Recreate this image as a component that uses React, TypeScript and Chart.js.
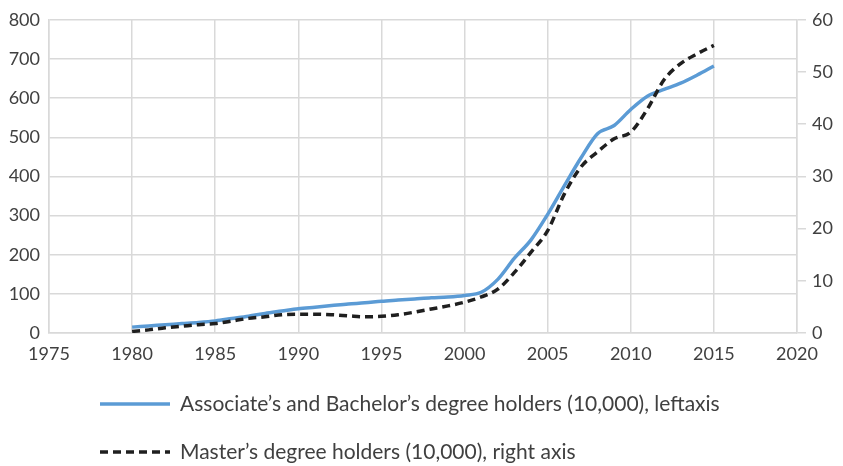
import React, { useEffect, useRef } from "react";
import { Chart, registerables } from "chart.js";

Chart.register(...registerables);

const years = [
  1980, 1981, 1982, 1983, 1984, 1985, 1986, 1987, 1988, 1989,
  1990, 1991, 1992, 1993, 1994, 1995, 1996, 1997, 1998, 1999,
  2000, 2001, 2002, 2003, 2004, 2005, 2006, 2007, 2008, 2009,
  2010, 2011, 2012, 2013, 2014, 2015,
];
const bachelorValues = [
  15, 18, 21, 24, 27, 31, 37, 43, 50, 56,
  62, 66, 70, 74, 77, 81, 84, 87, 90, 92,
  96, 104, 137, 191, 238, 303, 376, 447, 509, 530,
  571, 605, 622, 638, 659, 682,
];
const masterValues = [
  0.3, 0.6, 1.0, 1.3, 1.6, 1.8, 2.3, 2.8, 3.1, 3.5,
  3.6, 3.6, 3.5, 3.3, 3.1, 3.2, 3.5, 4.0, 4.6, 5.2,
  5.9, 6.9, 8.4, 11.6, 15.5, 19.6, 26.6, 31.8, 34.7, 37.2,
  38.5, 42.9, 48.5, 51.6, 53.5, 55.1,
];
const bachelorLabel = "Associate\u2019s and Bachelor\u2019s degree holders (10,000), leftaxis";
const masterLabel = "Master\u2019s degree holders (10,000), right axis";

const FONT = "Lato, 'Noto Sans', sans-serif";
const TEXT = "#404040";
const GRID = "#d9d9d9";

const legendPlugin = {
  id: "customLegend",
  afterDraw(chart: any) {
    const { ctx, chartArea } = chart;
    const x0 = chartArea.left + 51;
    const rows = [chartArea.bottom + 71, chartArea.bottom + 119];
    ctx.save();
    chart.data.datasets.forEach((ds: any, i: number) => {
      const y = rows[i];
      ctx.beginPath();
      ctx.strokeStyle = ds.borderColor;
      ctx.lineWidth = ds.borderWidth;
      ctx.setLineDash(ds.borderDash || []);
      ctx.moveTo(x0, y);
      ctx.lineTo(x0 + 70, y);
      ctx.stroke();
      ctx.setLineDash([]);
      ctx.fillStyle = TEXT;
      ctx.font = `21px ${FONT}`;
      ctx.textBaseline = "middle";
      ctx.textAlign = "left";
      ctx.fillText(ds.label, x0 + 80, y);
    });
    ctx.restore();
  },
};

export default function App() {
  const ref = useRef<HTMLCanvasElement>(null);
  useEffect(() => {
    if (!ref.current) return;
    const chart = new Chart(ref.current, {
      type: "line",
      data: {
        datasets: [
          {
            label: bachelorLabel,
            data: years.map((x, i) => ({ x, y: bachelorValues[i] })),
            borderColor: "#5b9bd5",
            borderWidth: 3.5,
            pointRadius: 0,
            cubicInterpolationMode: "monotone",
            yAxisID: "y",
            order: 1,
          },
          {
            label: masterLabel,
            data: years.map((x, i) => ({ x, y: masterValues[i] })),
            borderColor: "#1f1f1f",
            borderWidth: 3.5,
            borderDash: [8, 5],
            pointRadius: 0,
            cubicInterpolationMode: "monotone",
            yAxisID: "y1",
            order: 0,
          },
        ],
      },
      options: {
        animation: false,
        responsive: false,
        layout: { padding: { top: 14, bottom: 0, left: 0, right: 0 } },
        plugins: { legend: { display: false }, tooltip: { enabled: false } },
        scales: {
          x: {
            type: "linear",
            min: 1975,
            max: 2020,
            ticks: {
              stepSize: 5,
              color: TEXT,
              font: { family: FONT, size: 18 },
              padding: 10,
              maxRotation: 0,
              callback: (v: any) => String(v),
            },
            grid: { color: GRID, lineWidth: 1.5, drawTicks: false },
            border: { color: GRID, width: 1.5 },
            afterFit: (s: any) => { s.height = 133; },
          },
          y: {
            position: "left",
            min: 0,
            max: 800,
            ticks: {
              stepSize: 100,
              color: TEXT,
              font: { family: FONT, size: 18 },
              padding: 9,
            },
            grid: { color: GRID, lineWidth: 1.5, drawTicks: false },
            border: { color: GRID, width: 1.5 },
            afterFit: (s: any) => { s.width = 49; },
          },
          y1: {
            position: "right",
            min: 0,
            max: 60,
            ticks: {
              stepSize: 10,
              color: TEXT,
              font: { family: FONT, size: 18 },
              padding: 6,
            },
            grid: { color: GRID, lineWidth: 1.5, drawOnChartArea: false, drawTicks: true, tickLength: 9 },
            border: { color: GRID, width: 1.5 },
            afterFit: (s: any) => { s.width = 46; },
          },
        },
      },
      plugins: [legendPlugin],
    } as any);
    return () => chart.destroy();
  }, []);
  return (
    <div style={{ position: "fixed", left: 0, top: 0, width: 843, height: 466, background: "#fff" }}>
      <canvas ref={ref} width={843} height={466} />
    </div>
  );
}
